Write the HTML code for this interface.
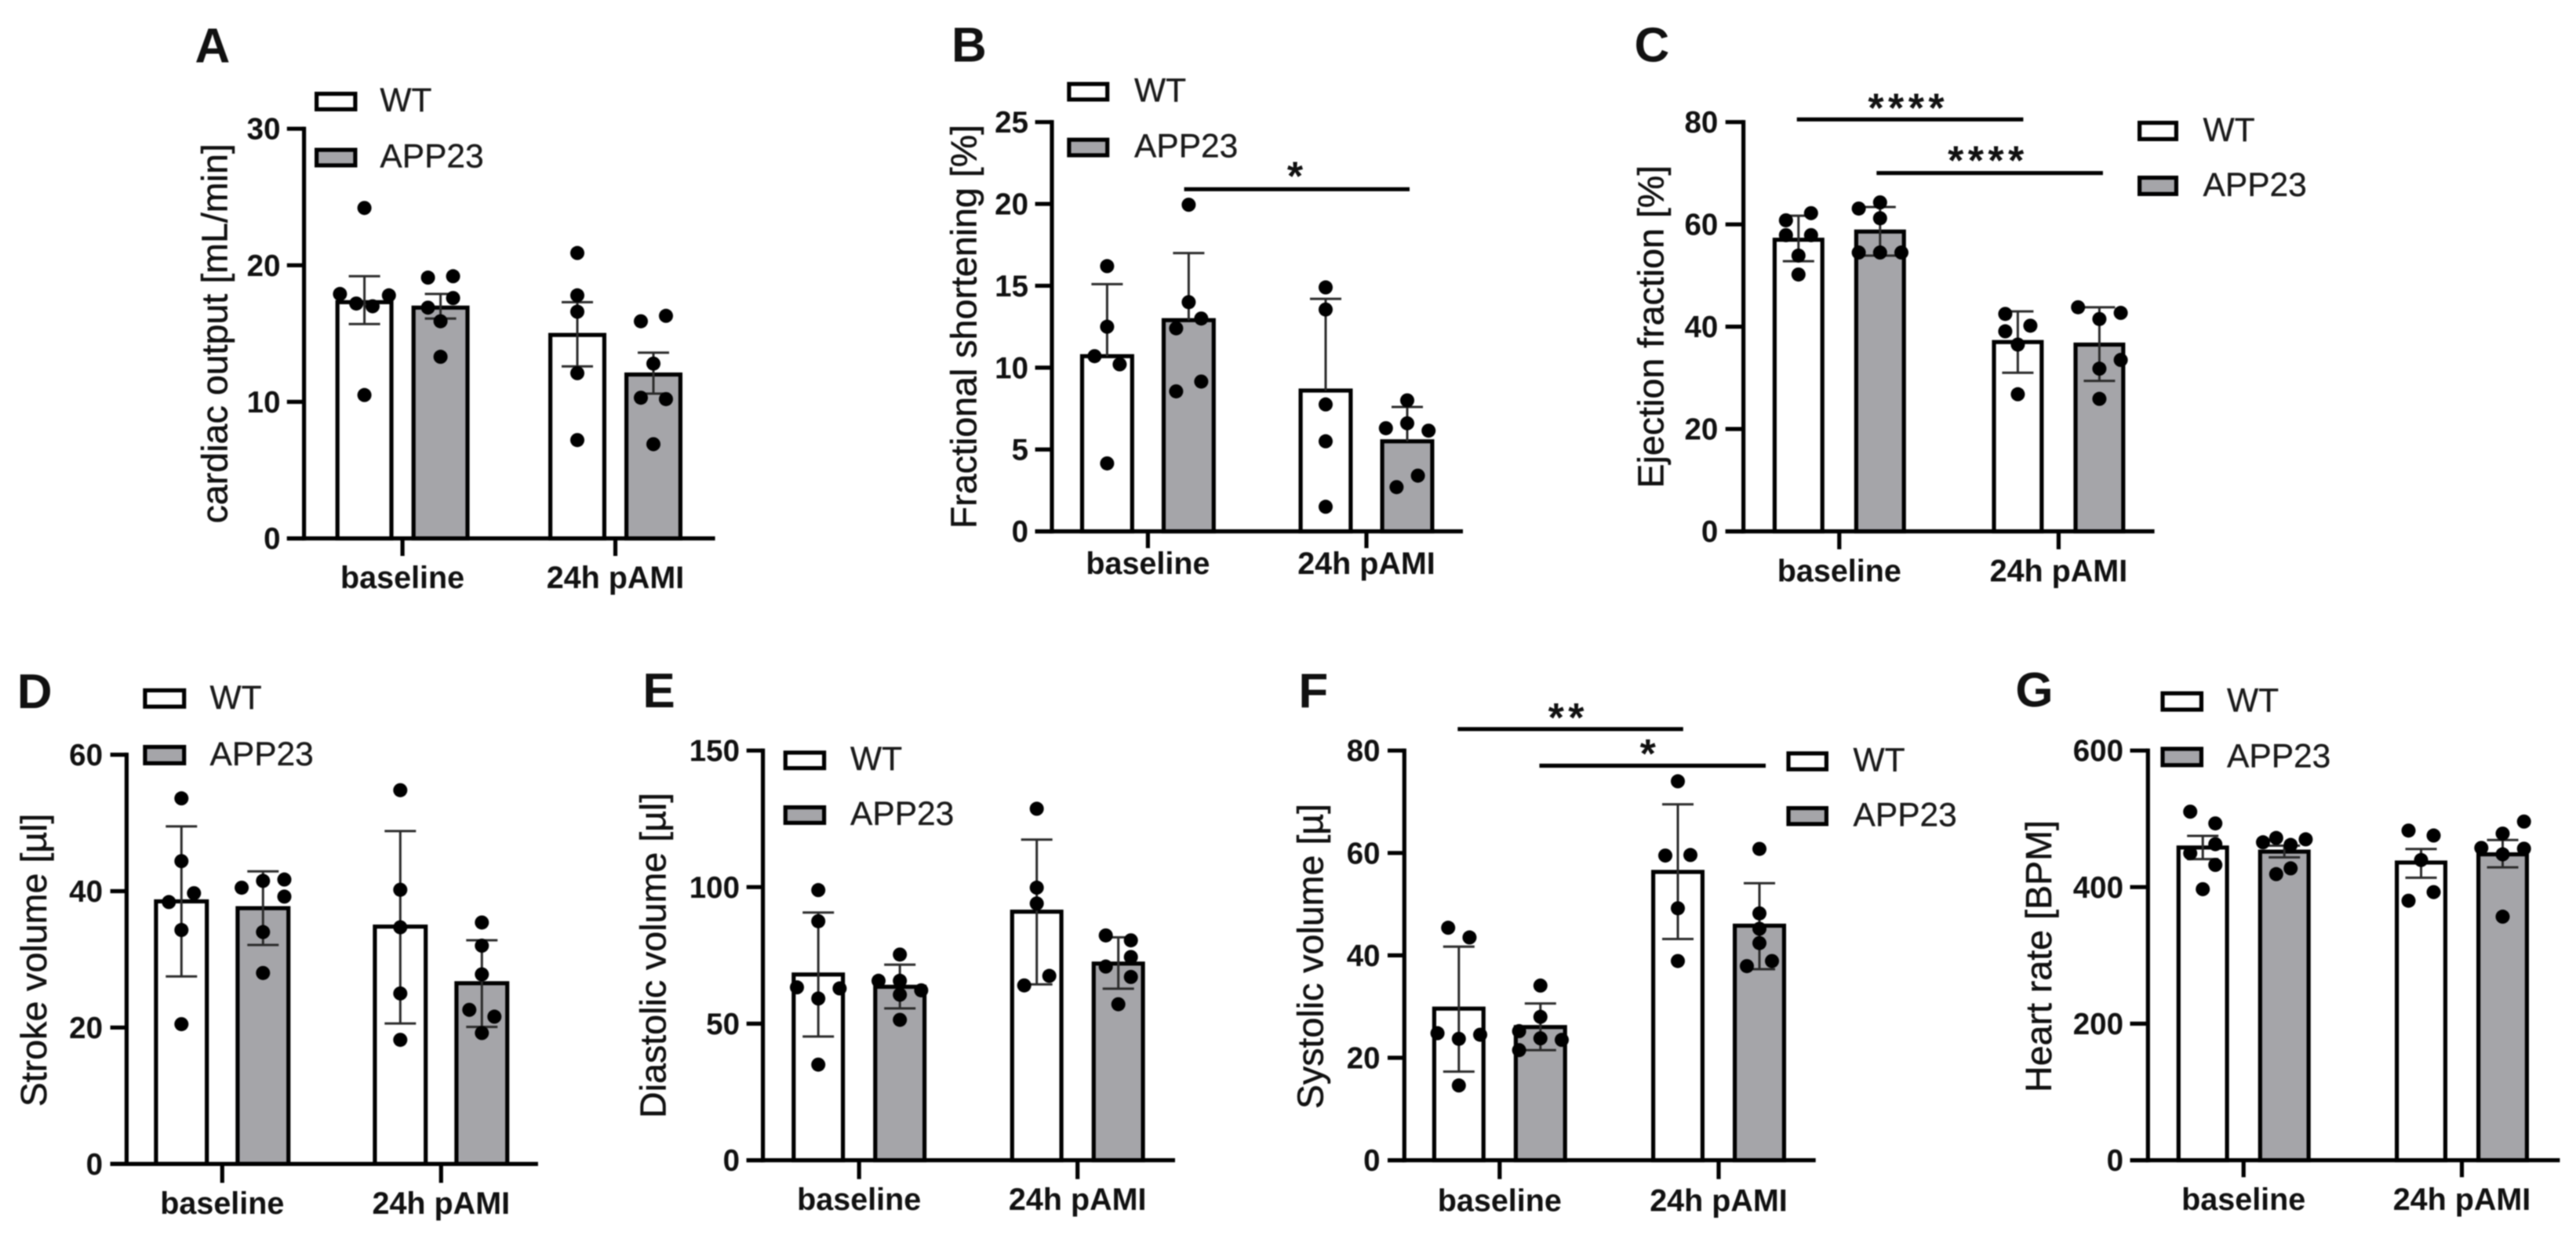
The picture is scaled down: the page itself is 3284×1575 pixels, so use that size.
<!DOCTYPE html>
<html lang="en">
<head>
<meta charset="utf-8">
<title>Cardiac function panels A–G</title>
<style>
html,body{margin:0;padding:0;background:#fff;}
body{width:3284px;height:1575px;overflow:hidden;}
svg{display:block;filter:blur(0.7px);}
text{font-family:"Liberation Sans",sans-serif;fill:#111;}
</style>
</head>
<body>
<svg id="figure" xmlns="http://www.w3.org/2000/svg" width="3284" height="1575" viewBox="0 0 3284 1575"></svg>
<script>
const groupNames = ['baseline', '24h pAMI'];
const seriesNames = ['WT', 'APP23'];

const ticksA = [0, 10, 20, 30];
const meansA = [17.3, 16.9, 14.9, 12.0];
const errHiA = [19.2, 17.9, 17.3, 13.6];
const errLoA = [15.7, 16.1, 12.6, 10.6];
const pointsA = [[24.2, 17.9, 17.8, 17.2, 17.0, 10.5], [19.1, 19.2, 17.6, 16.9, 15.9, 13.3], [20.9, 17.8, 16.6, 12.1, 7.2], [15.9, 16.3, 12.8, 10.3, 10.2, 6.9]];
const lanesA = [[0, -1.95, 1.95, -0.65, 0.65, 0], [-1, 1, 1, -1, 0, 0], [0, 0, 0, 0, 0], [-1, 1, 0, -1, 1, 0]];

const ticksB = [0, 5, 10, 15, 20, 25];
const meansB = [10.7, 12.9, 8.6, 5.5];
const errHiB = [15.1, 17.0, 14.2, 7.6];
const errLoB = [null, null, null, null];
const pointsB = [[16.2, 12.5, 10.7, 10.2, 4.15], [19.95, 14.0, 13.0, 12.4, 9.15, 8.55], [14.9, 13.55, 7.75, 5.5, 1.5], [8.0, 6.6, 6.3, 6.15, 3.4, 2.7]];
const lanesB = [[0, 0, -1, 1, 0], [0, 0, 1, -1, 1, -1], [0, 0, 0, 0, 0], [0, 0, -1.7, 1.7, 0.85, -0.85]];

const ticksC = [0, 20, 40, 60, 80];
const meansC = [57, 58.6, 37, 36.5];
const errHiC = [61.7, 63.4, 43.0, 43.8];
const errLoC = [52.8, 53.9, 31.0, 29.4];
const pointsC = [[62.2, 60.8, 57.9, 57.9, 53.9, 50.2], [64.3, 63.1, 61.2, 54.5, 54.5, 54.5], [42.5, 40.2, 39.1, 36.5, 26.8], [43.8, 42.7, 41.5, 33.5, 31.8, 25.9]];
const lanesC = [[1, -1, -1, 1, 0, 0], [0, -1.7, 0, -1.7, 0, 1.7], [-1, 1, -1, 0, 0], [-1.7, 1.7, 0, 1.7, 0, 0]];

const ticksD = [0, 20, 40, 60];
const meansD = [38.5, 37.5, 34.8, 26.5];
const errHiD = [49.5, 42.9, 48.8, 32.8];
const errLoD = [27.5, 32.1, 20.6, 20.1];
const pointsD = [[53.6, 44.4, 39.7, 38.4, 34.3, 20.5], [41.7, 41.5, 40.5, 39.2, 34.0, 28.0], [54.8, 40.2, 34.7, 25.0, 18.2], [35.4, 32.0, 27.8, 22.6, 21.6, 19.2]];
const lanesD = [[0, 0, 1, -1, 0, 0], [1.7, 0, -1.7, 1.7, 0, 0], [0, 0, 0, 0, 0], [0, 0, 0, -1, 1, 0]];

const ticksE = [0, 50, 100, 150];
const meansE = [68, 63.5, 91, 72];
const errHiE = [90.7, 71.6, 117.4, 81.6];
const errLoE = [45.3, 55.6, 64.4, 62.8];
const pointsE = [[98.9, 87.5, 63.3, 62.9, 59.2, 35], [75.3, 65.7, 65.7, 62.2, 60.6, 51.4], [128.7, 99.8, 94, 67.5, 64], [82.3, 80.5, 74.4, 70.9, 67.1, 57.1]];
const lanesE = [[0, 0, -1.7, 1.7, 0, 0], [0, -1.7, 0, 1.7, 0, 0], [0, 0, 0, 1, -1], [-1, 1, 1, -1, 1, 0]];

const ticksF = [0, 20, 40, 60, 80];
const meansF = [29.6, 26, 56.3, 45.8];
const errHiF = [41.7, 30.6, 69.5, 54.1];
const errLoF = [17.3, 21.5, 43.2, 37.3];
const pointsF = [[45.4, 43.5, 24.8, 24.5, 23.7, 14.6], [34.1, 28.0, 25.2, 23.8, 23.5, 21.5], [74, 59.5, 59.6, 49.2, 38.9], [60.8, 48.2, 45.2, 42.4, 38.9, 37.9]];
const lanesF = [[-0.85, 0.85, -1.7, 1.7, 0, 0], [0, 0, -1.7, 0, 1.7, -1.7], [0, -1, 1, 0, 0], [0, 0, 0, 0, 1, -1]];

const ticksG = [0, 200, 400, 600];
const meansG = [458, 452, 436, 448];
const errHiG = [475, 460.7, 455.8, 469];
const errLoG = [441, 443.6, 413.7, 429];
const pointsG = [[510.5, 493.3, 462.9, 449.6, 432.5, 397], [472, 470, 465.7, 461.8, 427.5, 419], [482.8, 475.6, 439.7, 392.7, 380], [496, 478.4, 457.4, 456.3, 448, 356.7]];
const lanesG = [[-1, 1, 1, -1, 1, 0], [-0.65, 1.7, -1.7, 0.5, 0.5, -0.65], [-1, 1, 0, 1, -1], [1.7, 0, -1.7, 1.7, 0, 0]];

const NS = 'http://www.w3.org/2000/svg';
const root = document.getElementById('figure');
const LANE = 16, DOT_R = 9, STROKE = 5.2, CAP = 40;
const GREY = '#a5a5a9';
const STAR_SIZE = 52, STAR_GAP = 5.4;

function mk(parent, tag, attrs, txt) {
  const el = document.createElementNS(NS, tag);
  for (const k in attrs) el.setAttribute(k, attrs[k]);
  if (txt !== undefined) el.textContent = txt;
  parent.appendChild(el);
  return el;
}

const layouts = [
  {id:'a', letter:'A', lx:248.5, ly:79.6, title:'cardiac output [mL/min]', tx:289.5, tcy:425.3,
   ticks:ticksA, means:meansA, hi:errHiA, lo:errLoA, pts:pointsA, lanes:lanesA,
   ax:387.6, y0:686.6, yt:164.2, tl:365.8, xe:911.6, gx:[513.1, 784.5], tb:709, d:48.5, bw:74, lr:357.5, xb:750,
   sw:401, sww:54.5, swh:25, sy:[117, 188.5], tl2:484.4, sig:[]},
  {id:'b', letter:'B', lx:1213, ly:78.6, title:'Fractional shortening [%]', tx:1244.5, tcy:416.6,
   ticks:ticksB, means:meansB, hi:errHiB, lo:errLoB, pts:pointsB, lanes:lanesB,
   ax:1341, y0:677.6, yt:155.7, tl:1319.6, xe:1865, gx:[1463.4, 1742], tb:699, d:52, bw:69, lr:1311, xb:732,
   sw:1360.3, sww:54, swh:25, sy:[104.5, 175.6], tl2:1446,
   sig:[{x1:1509.6, x2:1797, y:241.3, cx:1651, cy:216.4, s:'*'}]},
  {id:'c', letter:'C', lx:2083.5, ly:78.6, title:'Ejection fraction [%]', tx:2120.4, tcy:416.7,
   ticks:ticksC, means:meansC, hi:errHiC, lo:errLoC, pts:pointsC, lanes:lanesC,
   ax:2222.6, y0:677.6, yt:155.7, tl:2199.7, xe:2746.6, gx:[2344.8, 2624.4], tb:700.5, d:52, bw:66, lr:2190.3, xb:741.3,
   sw:2725, sww:52, swh:26, sy:[154, 224], tl2:2808.5,
   sig:[{x1:2290.7, x2:2579.4, y:152.3, cx:2430, cy:129.7, s:'****'}, {x1:2392.3, x2:2680.9, y:220.7, cx:2531.7, cy:196.4, s:'****'}]},
  {id:'d', letter:'D', lx:21.8, ly:902.8, title:'Stroke volume [µl]', tx:59, tcy:1224.5,
   ticks:ticksD, means:meansD, hi:errHiD, lo:errLoD, pts:pointsD, lanes:lanesD,
   ax:161.4, y0:1484.4, yt:962.5, tl:140.6, xe:685.9, gx:[283.3, 562.3], tb:1508.5, d:52, bw:70, lr:131, xb:1548,
   sw:182.3, sww:55, swh:26, sy:[877.8, 950], tl2:267.5, sig:[]},
  {id:'e', letter:'E', lx:819.4, ly:901.8, title:'Diastolic volume [µl]', tx:848.5, tcy:1218.4,
   ticks:ticksE, means:meansE, hi:errHiE, lo:errLoE, pts:pointsE, lanes:lanesE,
   ax:972.6, y0:1479.6, yt:957.2, tl:951.7, xe:1498, gx:[1095.2, 1373.7], tb:1503.7, d:52, bw:68, lr:943, xb:1543,
   sw:998.7, sww:54.5, swh:25, sy:[957.2, 1027], tl2:1084, sig:[]},
  {id:'f', letter:'F', lx:1655.4, ly:901.8, title:'Systolic volume [µ]', tx:1686.6, tcy:1219.6,
   ticks:ticksF, means:meansF, hi:errHiF, lo:errLoF, pts:pointsF, lanes:lanesF,
   ax:1790.3, y0:1479.6, yt:957.2, tl:1769, xe:2314.7, gx:[1911.8, 2191], tb:1503.7, d:52, bw:68, lr:1759.6, xb:1544.6,
   sw:2277.4, sww:53.6, swh:25.5, sy:[958.2, 1028], tl2:2362.5,
   sig:[{x1:1858.3, x2:2145.8, y:929.8, cx:1996.6, cy:907, s:'**'}, {x1:1962.5, x2:2251, y:976.5, cx:2100.8, cy:953, s:'*'}]},
  {id:'g', letter:'G', lx:2569.4, ly:900.9, title:'Heart rate [BPM]', tx:2615, tcy:1219.6,
   ticks:ticksG, means:meansG, hi:errHiG, lo:errLoG, pts:pointsG, lanes:lanesG,
   ax:2738.3, y0:1479.6, yt:957.2, tl:2715.5, xe:3263.4, gx:[2860.2, 3138.5], tb:1501.3, d:52, bw:67, lr:2707, xb:1543,
   sw:2754.4, sww:54.6, swh:26, sy:[881.6, 952.4], tl2:2839, sig:[]}
];

layouts.forEach(function (p) {
  const yMax = p.ticks[p.ticks.length - 1];
  const yScale = function (v) { return p.y0 - (v / yMax) * (p.y0 - p.yt); };
  const barCenter = function (i) {
    const g = Math.floor(i / 2), s = i % 2;
    return p.gx[g] + (s === 0 ? -p.d : p.d);
  };

  const panel = mk(root, 'g', {});
  
  

  const letter = mk(panel, 'text', {x:p.lx, y:p.ly, 'font-size':62, 'font-weight':'bold'}, p.letter);
  
  

  const ttl = mk(panel, 'text', {transform:'translate(' + p.tx + ' ' + p.tcy + ') rotate(-90)', 'text-anchor':'middle', 'font-size':46.6, stroke:'#111', 'stroke-width':0.5}, p.title);
  
  

  // bars
  p.means.forEach(function (m, i) {
    const top = yScale(m);
    const cx = barCenter(i);
    const bar = mk(panel, 'rect', {x:cx - p.bw / 2 + STROKE / 2, y:top, width:p.bw - STROKE, height:p.y0 - top,
      fill:i % 2 ? GREY : '#fff', stroke:'#000', 'stroke-width':STROKE});
    
    
  });

  // error bars
  p.means.forEach(function (m, i) {
    const cx = barCenter(i);
    const yHi = yScale(p.hi[i]);
    const hasLo = p.lo[i] !== null;
    const yLo = hasLo ? yScale(p.lo[i]) : yScale(m);
    const eg = mk(panel, 'g', {stroke:'#2a2a2a', 'stroke-width':3});
    
    
    mk(eg, 'line', {x1:cx, x2:cx, y1:yHi, y2:yLo});
    mk(eg, 'line', {x1:cx - CAP / 2, x2:cx + CAP / 2, y1:yHi, y2:yHi});
    if (hasLo) mk(eg, 'line', {x1:cx - CAP / 2, x2:cx + CAP / 2, y1:yLo, y2:yLo});
  });

  // points
  p.pts.forEach(function (vals, i) {
    const cx = barCenter(i);
    vals.forEach(function (v, j) {
      const dot = mk(panel, 'circle', {cx:cx + p.lanes[i][j] * LANE, cy:yScale(v), r:DOT_R, fill:'#000'});
      
      
    });
  });

  // y axis
  const yAxis = mk(panel, 'line', {x1:p.ax, x2:p.ax, y1:p.yt - STROKE / 2, y2:p.y0 + STROKE / 2, stroke:'#000', 'stroke-width':STROKE});
  
  
  p.ticks.forEach(function (t) {
    const ty = yScale(t);
    const tick = mk(panel, 'line', {x1:p.tl, x2:p.ax, y1:ty, y2:ty, stroke:'#000', 'stroke-width':STROKE});
    
    
    const lab = mk(panel, 'text', {x:p.lr, y:ty + 13.5, 'text-anchor':'end', 'font-size':38.5, 'font-weight':'bold'}, String(t));
    
    
  });

  // x axis
  const xAxis = mk(panel, 'line', {x1:p.tl, x2:p.xe, y1:p.y0, y2:p.y0, stroke:'#000', 'stroke-width':STROKE});
  
  
  groupNames.forEach(function (g, i) {
    const tick = mk(panel, 'line', {x1:p.gx[i], x2:p.gx[i], y1:p.y0, y2:p.tb, stroke:'#000', 'stroke-width':STROKE});
    
    
    const lab = mk(panel, 'text', {x:p.gx[i], y:p.xb, 'text-anchor':'middle', 'font-size':39.5, 'font-weight':'bold'}, g);
    
    
  });

  // legend
  seriesNames.forEach(function (s, i) {
    const entry = mk(panel, 'g', {});
    
    
    mk(entry, 'rect', {x:p.sw + STROKE / 2, y:p.sy[i] + STROKE / 2, width:p.sww - STROKE, height:p.swh - STROKE,
      fill:i ? GREY : '#fff', stroke:'#000', 'stroke-width':STROKE});
    mk(entry, 'text', {x:p.tl2, y:p.sy[i] + p.swh, 'font-size':42.5, stroke:'#111', 'stroke-width':0.3, style:'fill:#1a1a1a'}, s);
  });

  // significance brackets
  p.sig.forEach(function (b) {
    const line = mk(panel, 'line', {x1:b.x1, x2:b.x2, y1:b.y, y2:b.y, stroke:'#000', 'stroke-width':STROKE});
    
    
    const star = mk(panel, 'text', {x:b.cx + STAR_GAP / 2, y:b.cy + STAR_SIZE * 0.5, 'text-anchor':'middle', 'font-size':STAR_SIZE, 'font-weight':'bold', 'letter-spacing':STAR_GAP}, b.s);
    
    
  });
});
</script>
</body>
</html>
